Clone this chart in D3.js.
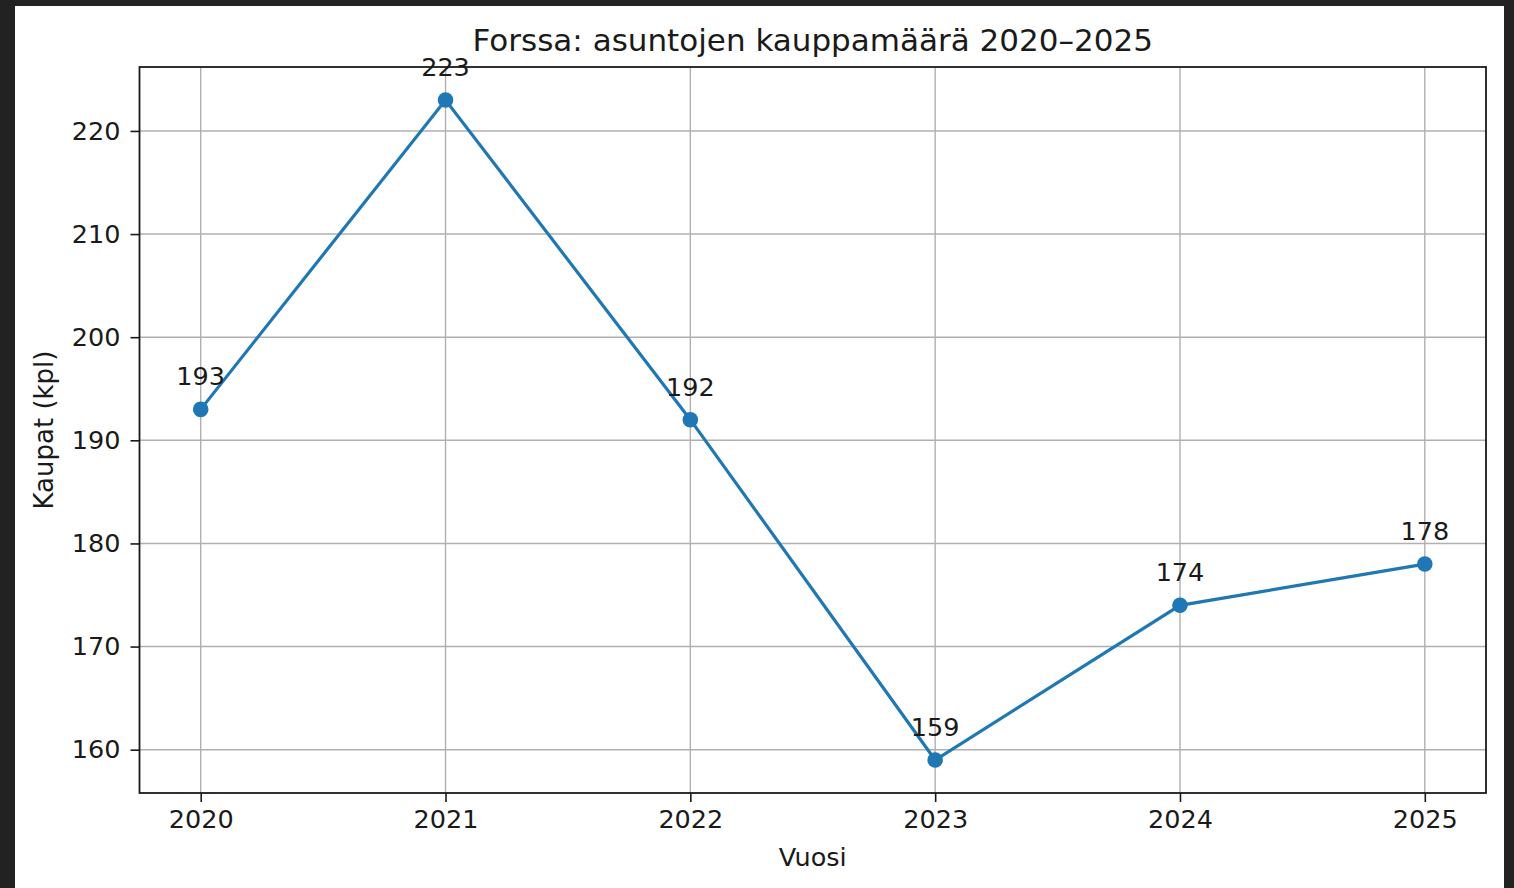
<!DOCTYPE html>
<html>
<head>
<meta charset="utf-8">
<script src="https://cdn.jsdelivr.net/npm/d3@7"></script>
<style>
html,body{margin:0;padding:0;background:#222222;}
svg{display:block;}
text{font-family:"DejaVu Sans",sans-serif;fill:#1a1a1a;}
</style>
</head>
<body>
<svg id="chart" width="1514" height="888"></svg>
<script>
const years = [2020, 2021, 2022, 2023, 2024, 2025];
const sales = [193, 223, 192, 159, 174, 178];
const yTicks = [160, 170, 180, 190, 200, 210, 220];
const titleText = "Forssa: asuntojen kauppamäärä 2020–2025";
const xLabel = "Vuosi";
const yLabel = "Kaupat (kpl)";

const svg = d3.select("#chart");
svg.append("rect").attr("x",15).attr("y",6).attr("width",1489).attr("height",882).attr("fill","#fff");

const L = 139.5, R = 1486, T = 67, B = 793;
const x = d3.scaleLinear().domain([2019.75, 2025.25]).range([L, R]);
const y = d3.scaleLinear().domain([155.8, 226.2]).range([B, T]);

const g = svg.append("g");
// grid
g.selectAll(".vg").data(years).join("line")
  .attr("x1", d=>x(d)).attr("x2", d=>x(d)).attr("y1", T).attr("y2", B)
  .attr("stroke","#b0b0b0").attr("stroke-width",1.4);
g.selectAll(".hg").data(yTicks).join("line")
  .attr("y1", d=>y(d)).attr("y2", d=>y(d)).attr("x1", L).attr("x2", R)
  .attr("stroke","#b0b0b0").attr("stroke-width",1.4);

// axes
const xAxis = d3.axisBottom(x).tickValues(years).tickFormat(d3.format("d")).tickSizeOuter(0).tickSize(9).tickPadding(6);
const yAxis = d3.axisLeft(y).tickValues(yTicks).tickSizeOuter(0).tickSize(9).tickPadding(10);
const gx = svg.append("g").attr("transform",`translate(0,${B})`).call(xAxis);
const gy = svg.append("g").attr("transform",`translate(${L},0)`).call(yAxis);
[gx, gy].forEach(a => {
  a.select(".domain").remove();
  a.selectAll(".tick line").attr("stroke","#1a1a1a").attr("stroke-width",1.6);
  a.selectAll(".tick text").style("font-family","DejaVu Sans").style("font-size","25.5px").attr("fill","#1a1a1a");
});
gx.selectAll(".tick text").attr("dy","0.8em");

// frame
svg.append("rect").attr("x",L).attr("y",T).attr("width",R-L).attr("height",B-T)
  .attr("fill","none").attr("stroke","#1a1a1a").attr("stroke-width",1.8);

// line
const data = years.map((yr,i)=>({yr, v: sales[i]}));
svg.append("path").datum(data)
  .attr("d", d3.line().x(d=>x(d.yr)).y(d=>y(d.v)))
  .attr("fill","none").attr("stroke","#1f77b4").attr("stroke-width",3.2);
svg.selectAll(".pt").data(data).join("circle")
  .attr("cx", d=>x(d.yr)).attr("cy", d=>y(d.v)).attr("r",7.8).attr("fill","#1f77b4");
svg.selectAll(".lbl").data(data).join("text")
  .attr("x", d=>x(d.yr)).attr("y", d=>y(d.v)-24)
  .attr("text-anchor","middle").style("font-size","25.5px").text(d=>d.v);

// title & labels
svg.append("text").attr("x",(L+R)/2).attr("y",51).attr("text-anchor","middle").style("font-size","31px").text(titleText);
svg.append("text").attr("x",(L+R)/2).attr("y",866).attr("text-anchor","middle").style("font-size","25.5px").text(xLabel);
svg.append("text").attr("transform",`translate(53,${(T+B)/2}) rotate(-90)`).attr("text-anchor","middle").style("font-size","26px").text(yLabel);
</script>
</body>
</html>
